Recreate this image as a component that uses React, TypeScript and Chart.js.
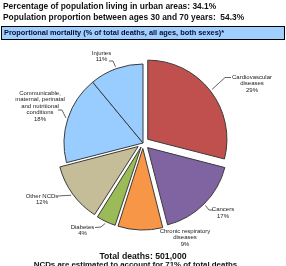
import React, { useEffect, useRef } from "react";
import { Chart, registerables } from "chart.js";

Chart.register(...registerables);

// Causes of death, clockwise from 12 o'clock
const causes = [
  "Cardiovascular diseases",
  "Cancers",
  "Chronic respiratory diseases",
  "Diabetes",
  "Other NCDs",
  "Communicable, maternal, perinatal and nutritional conditions",
  "Injuries",
];
const shares = [29, 17, 9, 4, 12, 18, 11];
const labelLines = [
  ["Cardiovascular", "diseases"],
  ["Cancers"],
  ["Chronic respiratory", "diseases"],
  ["Diabetes"],
  ["Other NCDs"],
  ["Communicable,", "maternal, perinatal", "and nutritional", "conditions"],
  ["Injuries"],
];
const sliceColors = ["#c0504d", "#8064a2", "#f79646", "#9bbb59", "#c4bd97", "#99ccff", "#99ccff"];
// NCD slices are pulled out of the pie
const sliceOffsets = [24, 26, 22, 18, 24, 0, 0];

const urbanShare = "34.1%";
const workingAgeShare = "54.3%";
const totalDeaths = "501,000";
const ncdShare = "71%";

// Callout placement: text centre (x, first line y) and leader path near the text
type Callout = { x: number; y: number; tip?: [number, number]; elbow?: [number, number] };
const callouts: Callout[] = [
  { x: 252, y: 77, tip: [231, 77.5], elbow: [225, 77.5] },
  { x: 223, y: 209.5, tip: [213, 210], elbow: [209, 210] },
  { x: 185, y: 231 },
  { x: 82.5, y: 227, tip: [95, 227.5], elbow: [101, 227] },
  { x: 42, y: 196, tip: [58, 196], elbow: [66, 195.5] },
  { x: 40, y: 93, tip: [58, 110], elbow: [62, 110] },
  { x: 101.5, y: 53, tip: [109, 61], elbow: [113, 61] },
];

const LINE_H = 6.5;

const calloutPlugin = {
  id: "callouts",
  afterDatasetsDraw(chart: any) {
    const ctx = chart.ctx as CanvasRenderingContext2D;
    const meta = chart.getDatasetMeta(0);
    ctx.save();
    meta.data.forEach((arc: any, i: number) => {
      const p = arc.getProps(["x", "y", "startAngle", "endAngle", "outerRadius", "circumference"], true);
      const shift = sliceOffsets[i] / 4;
      const mid = (p.startAngle + p.endAngle) / 2;
      const fix = 1 - Math.sin(Math.min(Math.PI, p.circumference));
      const reach = shift + p.outerRadius + shift * fix + 2;
      const ex = p.x + Math.cos(mid) * reach;
      const ey = p.y + Math.sin(mid) * reach;
      const c = callouts[i];
      if (c.tip && c.elbow) {
        ctx.beginPath();
        ctx.moveTo(c.tip[0], c.tip[1]);
        ctx.lineTo(c.elbow[0], c.elbow[1]);
        ctx.lineTo(ex, ey);
        ctx.strokeStyle = "#3c3c3c";
        ctx.lineWidth = 0.8;
        ctx.stroke();
      }
      ctx.fillStyle = "#222";
      ctx.font = "6px 'Liberation Sans', Arial, sans-serif";
      ctx.textAlign = "center";
      ctx.textBaseline = "middle";
      const lines = [...labelLines[i], `${shares[i]}%`];
      lines.forEach((t, k) => ctx.fillText(t, c.x, c.y + k * LINE_H));
    });
    ctx.restore();
  },
};

const font = "'Liberation Sans', Arial, sans-serif";

export default function App() {
  const canvasRef = useRef<HTMLCanvasElement | null>(null);

  useEffect(() => {
    const canvas = canvasRef.current;
    if (!canvas) return;
    const chart = new Chart(canvas, {
      type: "pie",
      data: {
        labels: causes,
        datasets: [
          {
            data: shares,
            backgroundColor: sliceColors,
            borderColor: "#3a3a3a",
            borderWidth: 1,
            offset: sliceOffsets,
          },
        ],
      },
      options: {
        responsive: false,
        animation: false,
        events: [],
        radius: 79,
        layout: { padding: { top: 20, bottom: 0, left: 0, right: 0 } },
        plugins: { legend: { display: false }, tooltip: { enabled: false } },
      } as any,
      plugins: [calloutPlugin],
    });
    return () => chart.destroy();
  }, []);

  return (
    <div
      style={{
        position: "fixed",
        left: 0,
        top: 0,
        width: 286,
        height: 266,
        overflow: "hidden",
        background: "#fff",
        fontFamily: font,
      }}
    >
      <canvas ref={canvasRef} width={286} height={266} style={{ position: "absolute", left: 0, top: 0, display: "block" }} />
      <div style={{ position: "absolute", left: 3, top: 1.5, fontSize: 8.4, lineHeight: "9px", fontWeight: "bold", color: "#111", whiteSpace: "nowrap" }}>
        Percentage of population living in urban areas: {urbanShare}
      </div>
      <div style={{ position: "absolute", left: 3, top: 12.8, fontSize: 8.4, lineHeight: "9px", fontWeight: "bold", color: "#111", whiteSpace: "nowrap" }}>
        Population proportion between ages 30 and 70 years:&nbsp; {workingAgeShare}
      </div>
      <div
        style={{
          position: "absolute",
          left: 1,
          top: 26,
          width: 282,
          height: 12,
          border: "1px solid #000",
          background: "#9fcfff",
          boxSizing: "content-box",
        }}
      >
        <div style={{ position: "absolute", left: 2, top: 2, fontSize: 7.4, lineHeight: "8px", fontWeight: "bold", color: "#0a0a30", whiteSpace: "nowrap" }}>
          Proportional mortality (% of total deaths, all ages, both sexes)*
        </div>
      </div>
      <div style={{ position: "absolute", left: 0, width: 286, top: 252, textAlign: "center", fontSize: 8.7, lineHeight: "9px", fontWeight: "bold", color: "#111", whiteSpace: "nowrap" }}>
        Total deaths: {totalDeaths}
      </div>
      <div style={{ position: "absolute", left: 0, width: 271, top: 260, textAlign: "center", fontSize: 7.9, lineHeight: "9px", fontWeight: "bold", color: "#111", whiteSpace: "nowrap" }}>
        NCDs are estimated to account for {ncdShare} of total deaths
      </div>
    </div>
  );
}
